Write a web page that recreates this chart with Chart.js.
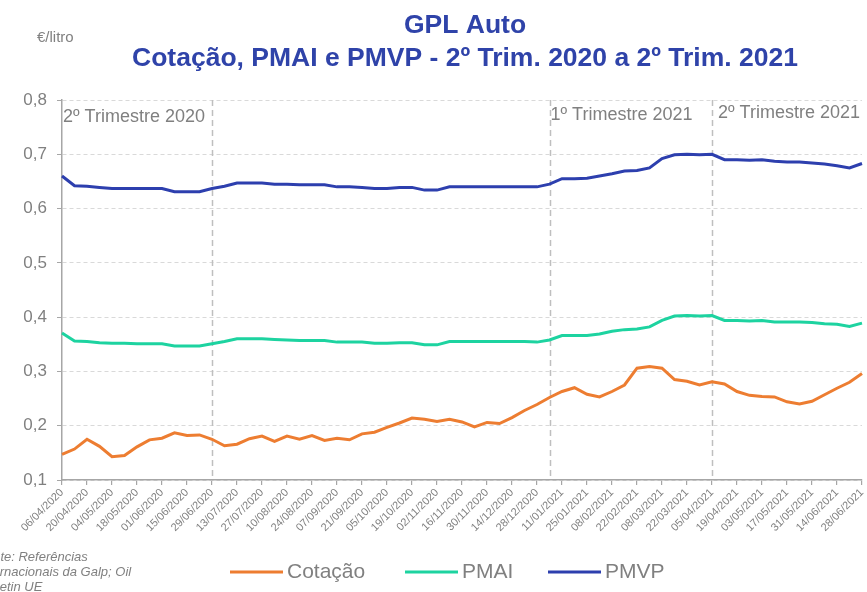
<!DOCTYPE html>
<html>
<head>
<meta charset="utf-8">
<script src="https://cdn.jsdelivr.net/npm/chart.js@4.4.1/dist/chart.umd.min.js"></script>
<style>
  html, body { margin: 0; padding: 0; background: #fff; }
  #wrap { width: 867px; height: 592px; }
</style>
</head>
<body>
<div id="wrap"><canvas id="chart" width="867" height="592"></canvas></div>
<script>
// Weekly dates (categories)
const weeks = [
  '06/04/2020', '13/04/2020', '20/04/2020', '27/04/2020', '04/05/2020', '11/05/2020', '18/05/2020', '25/05/2020',
  '01/06/2020', '08/06/2020', '15/06/2020', '22/06/2020', '29/06/2020', '06/07/2020', '13/07/2020', '20/07/2020',
  '27/07/2020', '03/08/2020', '10/08/2020', '17/08/2020', '24/08/2020', '31/08/2020', '07/09/2020', '14/09/2020',
  '21/09/2020', '28/09/2020', '05/10/2020', '12/10/2020', '19/10/2020', '26/10/2020', '02/11/2020', '09/11/2020',
  '16/11/2020', '23/11/2020', '30/11/2020', '07/12/2020', '14/12/2020', '21/12/2020', '28/12/2020', '04/01/2021',
  '11/01/2021', '18/01/2021', '25/01/2021', '01/02/2021', '08/02/2021', '15/02/2021', '22/02/2021', '01/03/2021',
  '08/03/2021', '15/03/2021', '22/03/2021', '29/03/2021', '05/04/2021', '12/04/2021', '19/04/2021', '26/04/2021',
  '03/05/2021', '10/05/2021', '17/05/2021', '24/05/2021', '31/05/2021', '07/06/2021', '14/06/2021', '21/06/2021',
  '28/06/2021'
];

// Series values (€/litro)
const cotacao = [
  0.147, 0.157, 0.175, 0.162, 0.143, 0.145, 0.161, 0.174, 0.177, 0.187, 0.182, 0.183, 0.175,
  0.163, 0.166, 0.176, 0.181, 0.171, 0.181, 0.175, 0.182, 0.173, 0.177, 0.174, 0.185, 0.188,
  0.197, 0.205, 0.214, 0.212, 0.208, 0.212, 0.207, 0.198, 0.206, 0.204, 0.215, 0.228, 0.239,
  0.252, 0.263, 0.270, 0.258, 0.253, 0.263, 0.275, 0.306, 0.309, 0.306, 0.285, 0.282, 0.275,
  0.281, 0.277, 0.263, 0.256, 0.254, 0.253, 0.244, 0.240, 0.245, 0.257, 0.269, 0.280, 0.296
];
const pmai = [
  0.371, 0.356, 0.355, 0.353, 0.352, 0.352, 0.351, 0.351, 0.351, 0.347, 0.347, 0.347, 0.351,
  0.355, 0.360, 0.360, 0.360, 0.359, 0.358, 0.357, 0.357, 0.357, 0.354, 0.354, 0.354, 0.352,
  0.352, 0.353, 0.353, 0.349, 0.349, 0.355, 0.355, 0.355, 0.355, 0.355, 0.355, 0.355, 0.354,
  0.358, 0.366, 0.366, 0.366, 0.369, 0.374, 0.377, 0.378, 0.382, 0.394, 0.402, 0.403, 0.402,
  0.403, 0.394, 0.394, 0.393, 0.394, 0.391, 0.391, 0.391, 0.390, 0.388, 0.387, 0.383, 0.389
];
const pmvp = [
  0.660, 0.642, 0.641, 0.639, 0.637, 0.637, 0.637, 0.637, 0.637, 0.631, 0.631, 0.631, 0.637,
  0.641, 0.647, 0.647, 0.647, 0.645, 0.645, 0.644, 0.644, 0.644, 0.640, 0.640, 0.639, 0.637,
  0.637, 0.639, 0.639, 0.634, 0.634, 0.640, 0.640, 0.640, 0.640, 0.640, 0.640, 0.640, 0.640,
  0.645, 0.655, 0.655, 0.656, 0.660, 0.664, 0.669, 0.670, 0.675, 0.692, 0.699, 0.700, 0.699,
  0.700, 0.690, 0.690, 0.689, 0.690, 0.687, 0.686, 0.686, 0.684, 0.682, 0.679, 0.675, 0.683
];

// Quarter markers: index of the week where the dashed line sits, and its label
const quarterIdx = [12, 39, 52];
const quarterLabels = ['2º Trimestre 2020', '1º Trimestre 2021', '2º Trimestre 2021'];
const yTicks = [0.1, 0.2, 0.3, 0.4, 0.5, 0.6, 0.7, 0.8];

const FONT = "'Liberation Sans', Arial, sans-serif";
const GREY = '#808080';

// Titles, unit, quarter lines, legend and source note
const decorPlugin = {
  id: 'decor',
  beforeDatasetsDraw(chart) {
    const { ctx, chartArea } = chart;
    const x = chart.scales.x;
    ctx.save();
    ctx.strokeStyle = '#bfbfbf';
    ctx.lineWidth = 1.5;
    ctx.setLineDash([6, 4]);
    quarterIdx.forEach(i => {
      const px = Math.round(x.getPixelForValue(i)) + 0.5;
      ctx.beginPath();
      ctx.moveTo(px, chartArea.top);
      ctx.lineTo(px, chartArea.bottom);
      ctx.stroke();
    });
    ctx.restore();
  },
  afterDraw(chart) {
    const { ctx, chartArea } = chart;
    const x = chart.scales.x;
    ctx.save();

    // title
    ctx.fillStyle = '#2f43a9';
    ctx.font = 'bold 26.5px ' + FONT;
    ctx.textAlign = 'center';
    ctx.textBaseline = 'middle';
    ctx.fillText('GPL Auto', 465, 26);
    ctx.fillText('Cotação, PMAI e PMVP - 2º Trim. 2020 a 2º Trim. 2021', 465, 59);

    // unit
    ctx.fillStyle = GREY;
    ctx.font = '15px ' + FONT;
    ctx.textAlign = 'left';
    ctx.fillText('€/litro', 37, 38);

    // quarter labels
    ctx.font = '18px ' + FONT;
    ctx.fillText(quarterLabels[0], chartArea.left + 1, 117);
    ctx.fillText(quarterLabels[1], x.getPixelForValue(quarterIdx[1]) + 1, 115);
    ctx.fillText(quarterLabels[2], x.getPixelForValue(quarterIdx[2]) + 6, 113);

    // legend
    const legendX = [230, 405, 548];
    ctx.font = '21px ' + FONT;
    chart.data.datasets.forEach((ds, i) => {
      ctx.strokeStyle = ds.borderColor;
      ctx.lineWidth = 3;
      ctx.beginPath();
      ctx.moveTo(legendX[i], 572);
      ctx.lineTo(legendX[i] + 53, 572);
      ctx.stroke();
      ctx.fillStyle = GREY;
      ctx.fillText(ds.label, legendX[i] + 57, 572);
    });

    // source note (cut by the left edge)
    ctx.font = 'italic 13px ' + FONT;
    ctx.fillStyle = GREY;
    ctx.fillText('Fonte: Referências', -22, 557);
    ctx.fillText('Internacionais da Galp; Oil', -22, 572);
    ctx.fillText('Bulletin UE', -22, 587);
    ctx.restore();
  }
};

const ctx = document.getElementById('chart').getContext('2d');
new Chart(ctx, {
  type: 'line',
  data: {
    labels: weeks,
    datasets: [
      { label: 'Cotação', data: cotacao, borderColor: '#ed7d31', backgroundColor: '#ed7d31' },
      { label: 'PMAI', data: pmai, borderColor: '#1dd3a0', backgroundColor: '#1dd3a0' },
      { label: 'PMVP', data: pmvp, borderColor: '#2d3fae', backgroundColor: '#2d3fae' }
    ]
  },
  options: {
    responsive: false,
    animation: false,
    devicePixelRatio: 1,
    layout: { padding: { top: 100, right: 5, left: 0, bottom: 0 } },
    elements: {
      point: { radius: 0 },
      line: { borderWidth: 3, tension: 0 }
    },
    plugins: {
      legend: { display: false },
      title: { display: false },
      tooltip: { enabled: false }
    },
    scales: {
      x: {
        offset: false,
        afterFit(scale) {
          scale.height = 112;
          scale.paddingLeft = 0;
          scale.paddingRight = 0;
        },
        grid: {
          drawOnChartArea: false,
          drawTicks: true,
          tickLength: 5,
          tickColor: c => (c.index % 2 === 0 ? '#a6a6a6' : 'rgba(0,0,0,0)'),
          lineWidth: 1.2
        },
        border: { display: true, color: '#a6a6a6', width: 1.5 },
        ticks: {
          autoSkip: false,
          minRotation: 45,
          maxRotation: 45,
          padding: 1,
          color: GREY,
          font: { family: FONT, size: 11 },
          callback: (v, i) => (i % 2 === 0 ? weeks[i] : '')
        }
      },
      y: {
        min: 0.1,
        max: 0.8,
        afterFit(scale) { scale.width = 62; },
        afterBuildTicks(scale) { scale.ticks = yTicks.map(v => ({ value: v })); },
        grid: {
          color: '#d9d9d9',
          lineWidth: 1,
          drawTicks: true,
          tickLength: 5,
          tickColor: '#a6a6a6'
        },
        border: { display: true, color: '#a6a6a6', width: 1.5, dash: [4, 3] },
        ticks: {
          padding: 10,
          color: GREY,
          font: { family: FONT, size: 17 },
          callback: v => v.toFixed(1).replace('.', ',')
        }
      }
    }
  },
  plugins: [decorPlugin]
});
</script>
</body>
</html>
